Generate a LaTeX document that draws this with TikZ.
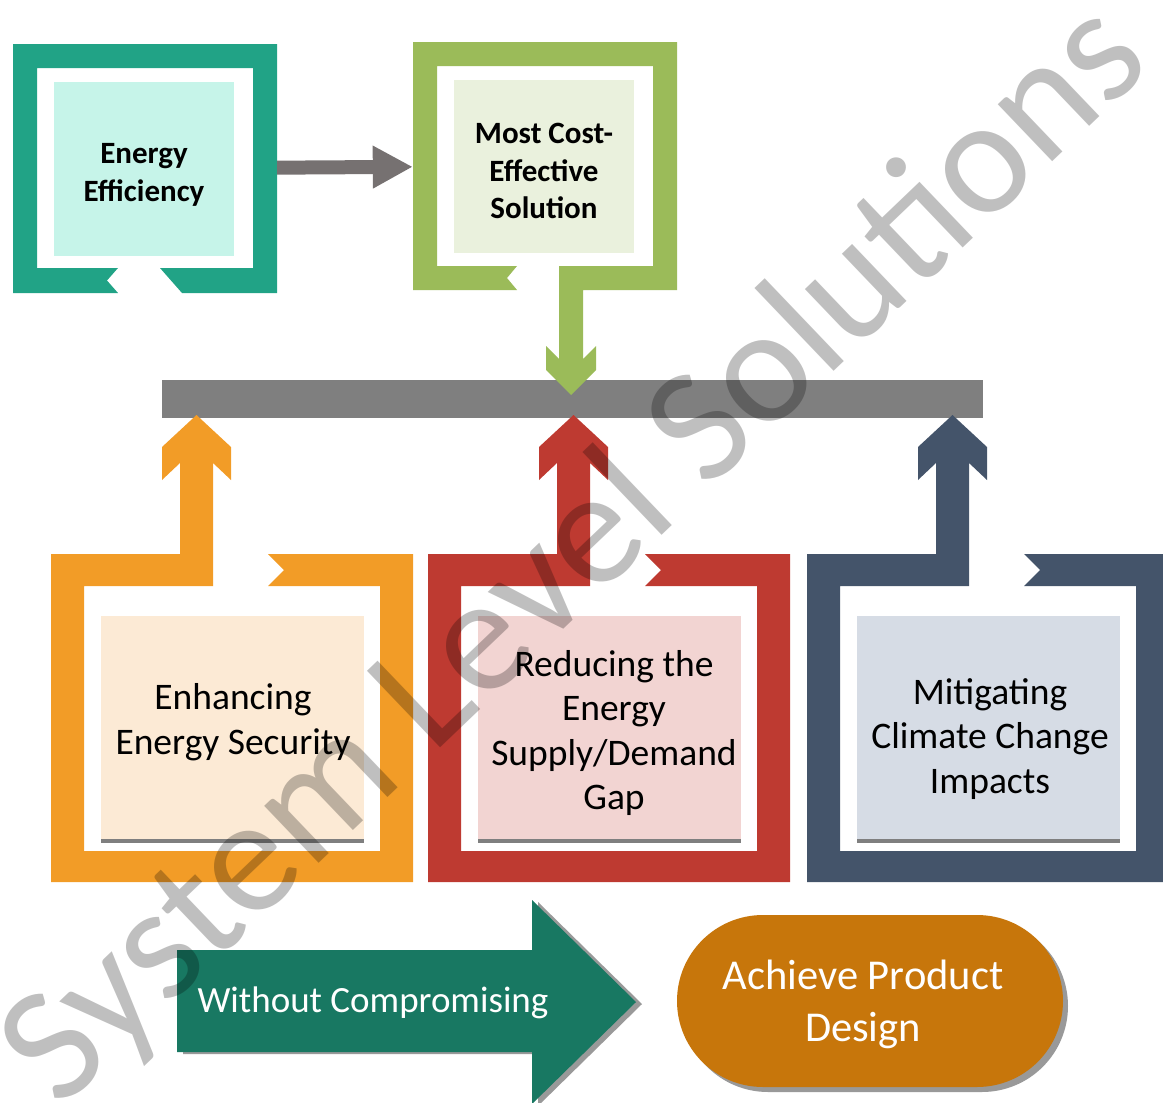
\documentclass[tikz,border=0pt]{standalone}
\usepackage{fontspec}
\setmainfont{Carlito}
\usepackage{tikz}
\usetikzlibrary{arrows.meta}
\usetikzlibrary{shadows}
\usetikzlibrary{calc}

\definecolor{EffTeal}{HTML}{21A386}
\definecolor{EffFill}{HTML}{C6F4E9}
\definecolor{CostGreen}{HTML}{9BBB59}
\definecolor{CostFill}{HTML}{EAF1DD}
\definecolor{LinkGray}{HTML}{767171}
\definecolor{BarGray}{HTML}{7F7F7F}
\definecolor{SecOrange}{HTML}{F29C27}
\definecolor{SecFill}{HTML}{FCEAD5}
\definecolor{GapRed}{HTML}{BE3A31}
\definecolor{GapFill}{HTML}{F2D4D2}
\definecolor{ClimBlue}{HTML}{44546A}
\definecolor{ClimFill}{HTML}{D6DCE5}
\definecolor{WayGreen}{HTML}{187862}
\definecolor{DesignOchre}{HTML}{C7760B}

\begin{document}
\begin{tikzpicture}[x=1pt,y=-1pt,line join=miter,
  toptext/.style={font=\bfseries\fontsize{31}{37.5}\selectfont,align=center},
  lowtext/.style={font=\fontsize{37.5}{44.5}\selectfont,align=center},
  framebox/.style={minimum width=264pt,minimum height=249pt,inner sep=0pt}]
\useasboundingbox (0,0) rectangle (1163,1103);
\fill[BarGray] (162,380) rectangle (983,418);
\foreach \x/\c/\f in {51/SecOrange/SecFill,428/GapRed/GapFill,807/ClimBlue/ClimFill}
{
\fill[\c,shift={(\x,0)}] (217,554) -- (362,554) -- (362,882) -- (0,882) -- (0,554) -- (129,554) -- (129,463) -- (111,480) -- (111,447) -- (145.5,415) -- (180,447) -- (180,480) -- (162,463) -- (162,586) -- (33,586) -- (33,851) -- (329,851) -- (329,586) -- (217,586) -- (233,570) -- cycle;
\fill[\f,shift={(\x,0)}] (50,616) rectangle (313,840);
\fill[BarGray,shift={(\x,0)}] (50,839) rectangle (313,843);
}
\node[lowtext] (security) at (233,722) {Enhancing\\Energy Security};
\node[lowtext] (supply) at (614,733) {Reducing the\\Energy\\Supply/Demand\\Gap};
\node[lowtext] (climate) at (990,739) {Mitigating\\Climate Change\\Impacts};
\fill[EffTeal] (118,293) -- (13,293) -- (13,44) -- (277,44) -- (277,293) -- (182,293) -- (160,268) -- (253,268) -- (253,68) -- (37,68) -- (37,268) -- (118,268) -- (107,280.5) -- cycle;
\fill[EffFill] (54,82) rectangle (234,256);
\node[toptext] (eff) at (144,175) {Energy\\Efficiency};
\fill[CostGreen] (517,290) -- (413,290) -- (413,42) -- (677,42) -- (677,290) -- (583,290) -- (583,359) -- (596,346) -- (596,370) -- (571,395) -- (546,370) -- (546,346) -- (559,359) -- (559,266) -- (653,266) -- (653,66) -- (437,66) -- (437,266) -- (517,266) -- (507,278) -- cycle;
\fill[CostFill] (454,80) rectangle (634,253);
\node[toptext] (cost) at (544,171) {Most Cost-\\Effective\\Solution};
\node[framebox] (effframe) at (145,168.5) {};
\node[framebox] (costframe) at (545,166) {};
\draw[LinkGray,line width=14pt,-{Triangle[length=40pt,width=40pt]}] (effframe) -- (costframe);
\fill[black!40,shift={(6,2)}] (177,950) -- (532,950) -- (532,900) -- (636,1002) -- (532,1104) -- (532,1052) -- (177,1052) -- cycle;
\fill[WayGreen] (177,950) -- (532,950) -- (532,900) -- (636,1002) -- (532,1104) -- (532,1052) -- (177,1052) -- cycle;
\node[font=\fontsize{37}{44}\selectfont,text=white] (without) at (373,1003) {Without Compromising};
\node[fill=DesignOchre,rounded corners=86pt,minimum width=386pt,minimum height=172pt,
  drop shadow={shadow xshift=5pt,shadow yshift=-5pt,fill=black!40,opacity=1}] (design) at (870,1001) {};
\node[text=white,font=\fontsize{42.5}{52}\selectfont,align=center] (designtext) at (863,1004) {Achieve Product\\Design};
\node[rotate=43.7,text=black,text opacity=0.25,font=\fontsize{165}{165}\selectfont] (mark) at (577,556) {System Level Solutions};
\end{tikzpicture}
\end{document}
